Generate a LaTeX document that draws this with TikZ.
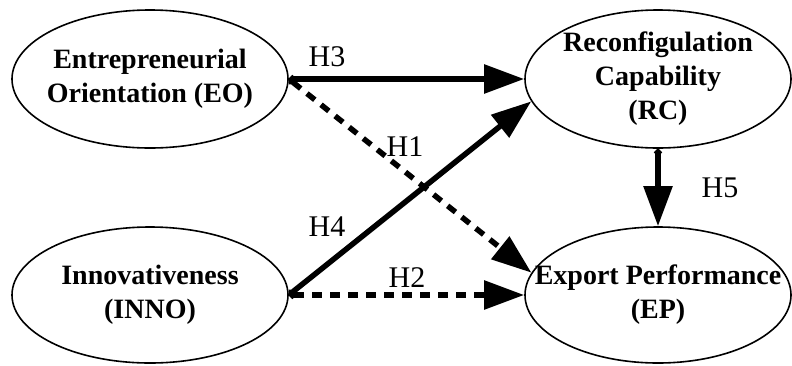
\documentclass[tikz,border=0pt]{standalone}
\usepackage{fontspec}
\setmainfont{Liberation Serif}
\usetikzlibrary{shapes.geometric,arrows.meta}
\begin{document}
\begin{tikzpicture}[x=1pt,y=-1pt,
  construct/.style={draw, ellipse, line width=1.6pt, inner sep=0pt},
  ctext/.style={align=center, inner sep=0pt, font=\bfseries\fontsize{28}{34}\selectfont},
  solidarrow/.style={line width=5.5pt, {Circle[length=7pt]}-{Triangle[length=40pt,width=28pt]}},
  dasharrow/.style={line width=5.5pt, dash pattern=on 10pt off 8pt,
    {Circle[length=7pt]}-{Triangle[length=40pt,width=28pt]}},
  hyp/.style={font=\fontsize{30}{34}\selectfont, inner sep=0pt}]
\useasboundingbox (0,0) rectangle (792,365);
\node[construct, minimum width=276pt, minimum height=138pt] (EO) at (150,79) {};
\node[ctext] (EOt) at (150,79) {Entrepreneurial\\Orientation (EO)};
\node[construct, minimum width=266pt, minimum height=138pt] (RC) at (658,79) {};
\node[ctext] (RCt) at (658,79) {Reconfigulation\\Capability\\(RC)};
\node[construct, minimum width=276pt, minimum height=136pt] (INNO) at (150,295) {};
\node[ctext] (INNOt) at (150,295) {Innovativeness\\(INNO)};
\node[construct, minimum width=266pt, minimum height=136pt] (EP) at (658,295) {};
\node[ctext] (EPt) at (658,295) {Export Performance\\(EP)};
\draw[solidarrow] (EO.east) -- (RC.west);
\draw[dasharrow] (EO.east) -- (EP.170);
\draw[solidarrow] (INNO.east) -- (RC.190);
\draw[dasharrow] (INNO.east) -- (EP.west);
\draw[solidarrow] (RC.south) -- (EP.north);
\node[hyp] (h3) at (327,57) {H3};
\node[hyp] (h1) at (405,147) {H1};
\node[hyp] (h4) at (327,227) {H4};
\node[hyp] (h2) at (407,278) {H2};
\node[hyp] (h5) at (720,188) {H5};
\end{tikzpicture}
\end{document}
